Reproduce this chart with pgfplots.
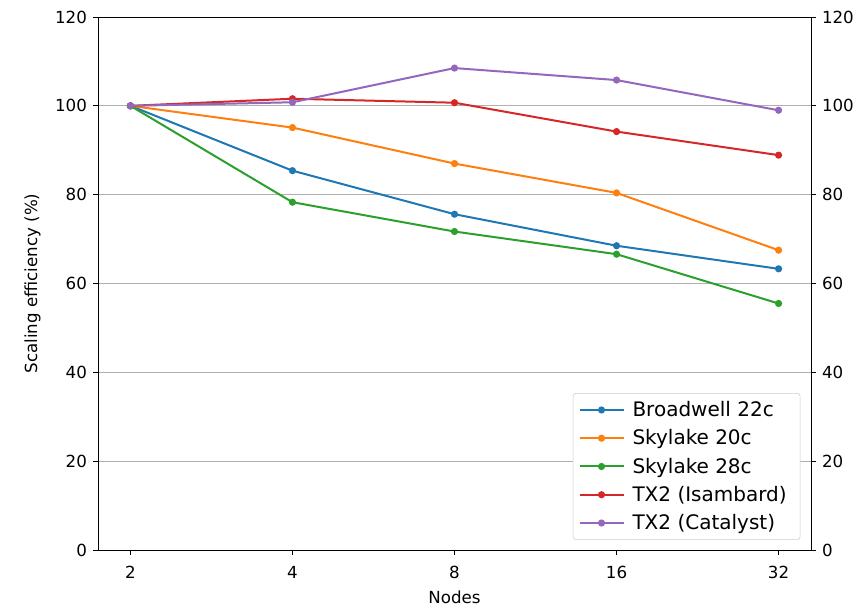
\documentclass[border=0pt]{standalone}
\usepackage{pgfplots}
\pgfplotsset{compat=1.18}
\usepackage{fontspec}
\setmainfont{DejaVu Sans}
\definecolor{c0}{HTML}{1F77B4}
\definecolor{c1}{HTML}{FF7F0E}
\definecolor{c2}{HTML}{2CA02C}
\definecolor{c3}{HTML}{D62728}
\definecolor{c4}{HTML}{9467BD}
\begin{document}
\begin{tikzpicture}
\useasboundingbox (-73.5pt,-45pt) rectangle (575.25pt,412.5pt);
\pgfplotsset{
  common/.style={
    scale only axis, width=534.75pt, height=399.75pt,
    xmin=-0.2, xmax=4.2, ymin=0, ymax=120,
    ytick={0,20,...,120},
    tick align=outside, major tick length=3.75pt,
    tick style={black, line width=0.6pt},
    axis line style={line width=0.6pt},
    /pgf/number format/assume math mode=true,
    ticklabel style={font=\fontsize{12.5}{14}\selectfont},
  }
}
\begin{axis}[common,
  xtick={0,1,2,3,4}, xticklabels={2,4,8,16,32},
  ymajorgrids, grid style={color=black!31, line width=0.6pt},
  ytick pos=left, xtick pos=bottom,
  xticklabel style={yshift=-5pt},
  yticklabel style={xshift=-1pt},
  xlabel={Nodes}, ylabel={Scaling efficiency (\%)},
  label style={font=\fontsize{12.5}{14}\selectfont},
  xlabel style={yshift=-2pt},
  ylabel style={yshift=4pt},
  legend cell align=left,
  legend style={at={(axis description cs:0.985,0.019)}, anchor=south east,
    font=\fontsize{15}{17}\selectfont, draw=black!20, rounded corners=2pt,
    inner xsep=4pt, inner ysep=4pt, row sep=4.3pt,
    nodes={inner xsep=6pt}},
  legend image code/.code={\draw[mark repeat=2,mark phase=2] plot coordinates {(0cm,0cm) (0.58cm,0cm) (1.16cm,0cm)};},
  every axis plot/.append style={line width=1.5pt, mark=*, mark size=1.9pt},
]
\addplot[c0] coordinates {(0,100) (1,85.4) (2,75.6) (3,68.5) (4,63.3)};
\addlegendentry{Broadwell 22c}
\addplot[c1] coordinates {(0,100) (1,95.1) (2,87.0) (3,80.4) (4,67.5)};
\addlegendentry{Skylake 20c}
\addplot[c2] coordinates {(0,100) (1,78.3) (2,71.7) (3,66.6) (4,55.5)};
\addlegendentry{Skylake 28c}
\addplot[c3] coordinates {(0,100) (1,101.6) (2,100.7) (3,94.2) (4,88.9)};
\addlegendentry{TX2 (Isambard)}
\addplot[c4] coordinates {(0,100) (1,100.8) (2,108.5) (3,105.8) (4,99.0)};
\addlegendentry{TX2 (Catalyst)}
\end{axis}
\begin{axis}[common,
  axis y line*=right, axis x line=none,
  xtick=\empty,
  yticklabel style={xshift=1pt},
]
\addplot[draw=none] coordinates {(0,0)};
\end{axis}
\end{tikzpicture}
\end{document}
